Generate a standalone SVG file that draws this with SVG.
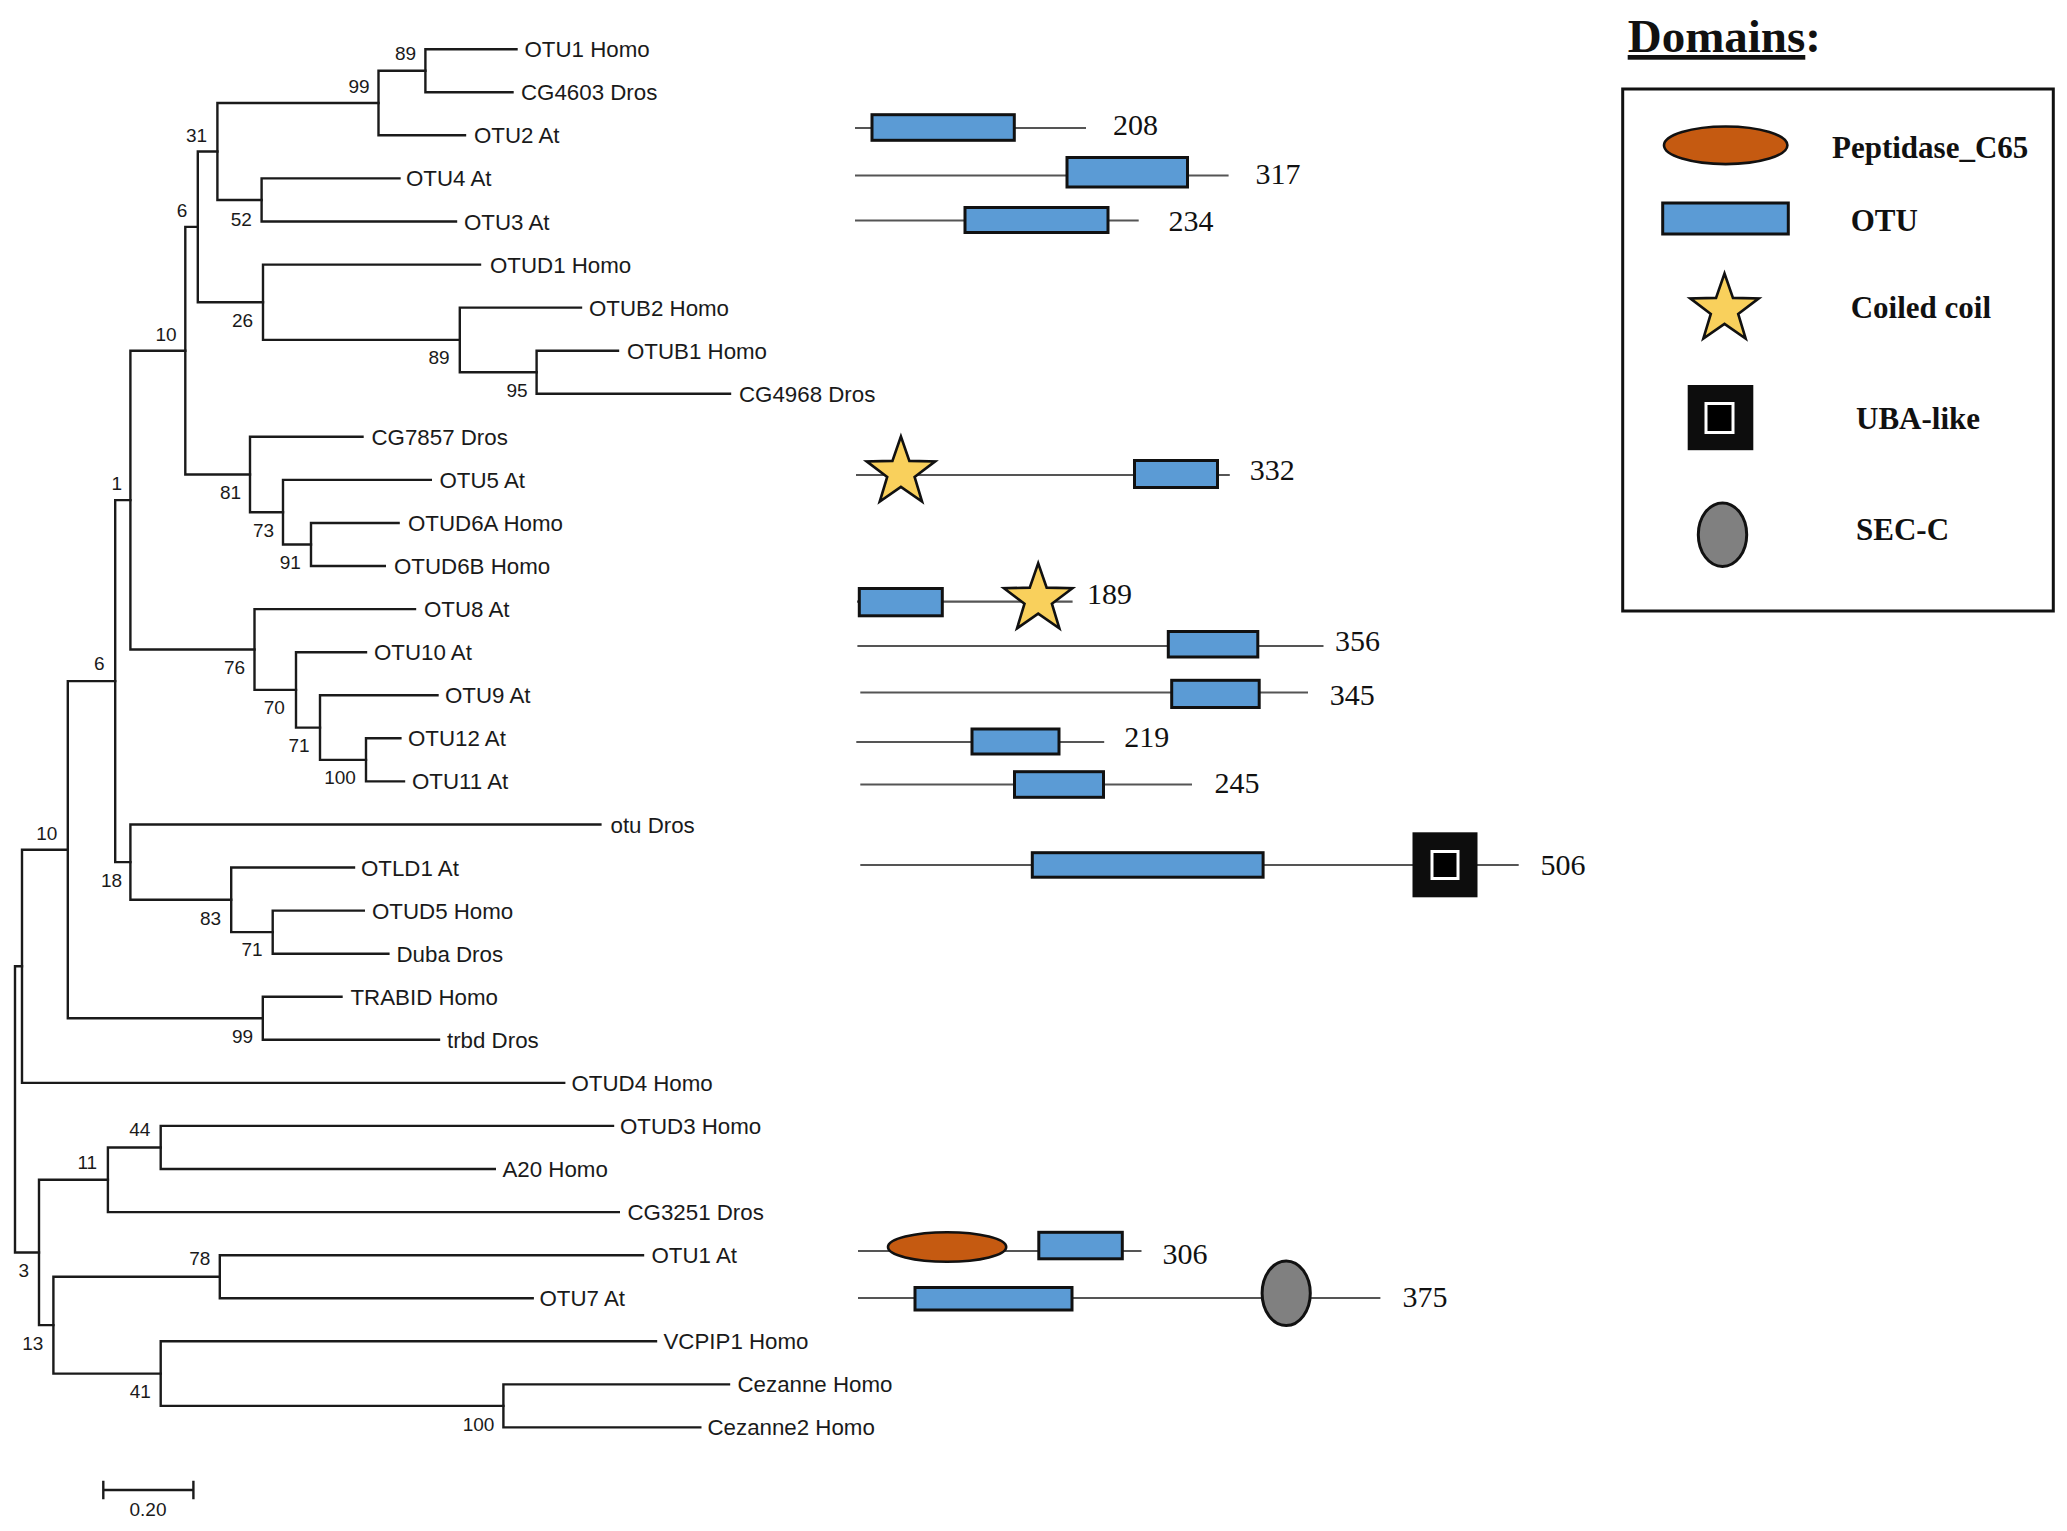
<svg xmlns="http://www.w3.org/2000/svg" width="2067" height="1531" viewBox="0 0 2067 1531">
<defs>
<style>
.br{fill:none;stroke:#1a1a1a;stroke-width:2.4;stroke-linecap:square}
.leaf{font-family:"Liberation Sans",Arial,sans-serif;font-size:22.3px;fill:#1a1a1a}
.bs{font-family:"Liberation Sans",Arial,sans-serif;font-size:19px;fill:#1a1a1a;text-anchor:middle}
.dl{stroke:#555;stroke-width:2.2;fill:none}
.otu{fill:#5B9BD5;stroke:#111;stroke-width:3}
.pep{fill:#C55A11;stroke:#111;stroke-width:2.6}
.sec{fill:#808080;stroke:#111;stroke-width:3}
.star{fill:#F9D05C;stroke:#111;stroke-width:2.6;stroke-linejoin:miter}
.uba{fill:#0d0d0d}
.ubai{fill:#000;stroke:#fff;stroke-width:3}
.num{font-family:"Liberation Serif","Times New Roman",serif;font-size:30px;fill:#111}
.leg{font-family:"Liberation Serif","Times New Roman",serif;font-weight:bold;font-size:31px;fill:#111}
</style>
<polygon id="starShape" points="0,-36 8.46,-11.65 34.24,-11.12 13.7,4.45 21.16,29.12 0,14.4 -21.16,29.12 -13.7,4.45 -34.24,-11.12 -8.46,-11.65"/>
</defs>
<rect width="2067" height="1531" fill="#fff"/>

<g id="connectors" class="br">
<path d="M425.4,49.2V92.3M425.4,49.2H516.5M425.4,92.3H512.5"/>
<path d="M378.5,70.75V135.3M378.5,70.75H425.4M378.5,135.3H465"/>
<path d="M261.6,178.4V221.5M261.6,178.4H399.5M261.6,221.5H456"/>
<path d="M217.4,103V199.95M217.4,103H378.5M217.4,199.95H261.6"/>
<path d="M536.6,350.7V393.8M536.6,350.7H618M536.6,393.8H730"/>
<path d="M459.8,307.6V372.25M459.8,307.6H581M459.8,372.25H536.6"/>
<path d="M263,264.6V339.9M263,264.6H480M263,339.9H459.8"/>
<path d="M197.8,151.5V302.25M197.8,151.5H217.4M197.8,302.25H263"/>
<path d="M311,523V566M311,523H398.6M311,566H384.8"/>
<path d="M283,479.9V544.5M283,479.9H430.8M283,544.5H311"/>
<path d="M250,436.8V512.2M250,436.8H362.5M250,512.2H283"/>
<path d="M185.3,226.9V474.5M185.3,226.9H197.8M185.3,474.5H250"/>
<path d="M366,738.3V781.4M366,738.3H400.4M366,781.4H404"/>
<path d="M320,695.3V759.85M320,695.3H437.5M320,759.85H366"/>
<path d="M296,652.2V727.6M296,652.2H366M296,727.6H320"/>
<path d="M254.5,609.1V689.9M254.5,609.1H415M254.5,689.9H296"/>
<path d="M130.4,350.7V649.5M130.4,350.7H185.3M130.4,649.5H254.5"/>
<path d="M272.7,910.6V953.7M272.7,910.6H363.8M272.7,953.7H388.4"/>
<path d="M231.2,867.5V932.15M231.2,867.5H354M231.2,932.15H272.7"/>
<path d="M130.4,824.5V899.8M130.4,824.5H600.4M130.4,899.8H231.2"/>
<path d="M115.2,500.1V862.15M115.2,500.1H130.4M115.2,862.15H130.4"/>
<path d="M262.8,996.7V1039.8M262.8,996.7H341.5M262.8,1039.8H439"/>
<path d="M67.8,681.1V1018.25M67.8,681.1H115.2M67.8,1018.25H262.8"/>
<path d="M22,849.7V1082.9M22,849.7H67.8M22,1082.9H564.2"/>
<path d="M160.7,1125.9V1169M160.7,1125.9H613M160.7,1169H494.8"/>
<path d="M107.9,1147.45V1212.1M107.9,1147.45H160.7M107.9,1212.1H618.8"/>
<path d="M219.8,1255.2V1298.2M219.8,1255.2H643M219.8,1298.2H532.7"/>
<path d="M503.4,1384.4V1427.4M503.4,1384.4H729M503.4,1427.4H700.3"/>
<path d="M160.7,1341.3V1405.9M160.7,1341.3H656M160.7,1405.9H503.4"/>
<path d="M53.4,1276.7V1373.6M53.4,1276.7H219.8M53.4,1373.6H160.7"/>
<path d="M39,1179.8V1325.15M39,1179.8H107.9M39,1325.15H53.4"/>
<path d="M15,966.3V1252.5M15,966.3H22M15,1252.5H39"/>
</g>

<g id="leaves" class="leaf">
<g id="leaf-OTU1-Homo"><text x="524.5" y="57.2">OTU1 Homo</text></g>
<g id="leaf-CG4603-Dros"><text x="521" y="100.3">CG4603 Dros</text></g>
<g id="leaf-OTU2-At"><text x="474" y="143.3">OTU2 At</text></g>
<g id="leaf-OTU4-At"><text x="406" y="186.4">OTU4 At</text></g>
<g id="leaf-OTU3-At"><text x="464" y="229.5">OTU3 At</text></g>
<g id="leaf-OTUD1-Homo"><text x="490" y="272.6">OTUD1 Homo</text></g>
<g id="leaf-OTUB2-Homo"><text x="589" y="315.6">OTUB2 Homo</text></g>
<g id="leaf-OTUB1-Homo"><text x="627" y="358.7">OTUB1 Homo</text></g>
<g id="leaf-CG4968-Dros"><text x="739" y="401.8">CG4968 Dros</text></g>
<g id="leaf-CG7857-Dros"><text x="371.5" y="444.8">CG7857 Dros</text></g>
<g id="leaf-OTU5-At"><text x="439.5" y="487.9">OTU5 At</text></g>
<g id="leaf-OTUD6A-Homo"><text x="408" y="531">OTUD6A Homo</text></g>
<g id="leaf-OTUD6B-Homo"><text x="394" y="574">OTUD6B Homo</text></g>
<g id="leaf-OTU8-At"><text x="424" y="617.1">OTU8 At</text></g>
<g id="leaf-OTU10-At"><text x="374" y="660.2">OTU10 At</text></g>
<g id="leaf-OTU9-At"><text x="445" y="703.3">OTU9 At</text></g>
<g id="leaf-OTU12-At"><text x="408" y="746.3">OTU12 At</text></g>
<g id="leaf-OTU11-At"><text x="412" y="789.4">OTU11 At</text></g>
<g id="leaf-otu-Dros"><text x="610.5" y="832.5">otu Dros</text></g>
<g id="leaf-OTLD1-At"><text x="361" y="875.5">OTLD1 At</text></g>
<g id="leaf-OTUD5-Homo"><text x="372" y="918.6">OTUD5 Homo</text></g>
<g id="leaf-Duba-Dros"><text x="396.5" y="961.7">Duba Dros</text></g>
<g id="leaf-TRABID-Homo"><text x="350.5" y="1004.7">TRABID Homo</text></g>
<g id="leaf-trbd-Dros"><text x="447" y="1047.8">trbd Dros</text></g>
<g id="leaf-OTUD4-Homo"><text x="571.5" y="1090.9">OTUD4 Homo</text></g>
<g id="leaf-OTUD3-Homo"><text x="620" y="1133.9">OTUD3 Homo</text></g>
<g id="leaf-A20-Homo"><text x="502.5" y="1177">A20 Homo</text></g>
<g id="leaf-CG3251-Dros"><text x="627.5" y="1220.1">CG3251 Dros</text></g>
<g id="leaf-OTU1-At"><text x="651.5" y="1263.2">OTU1 At</text></g>
<g id="leaf-OTU7-At"><text x="539.5" y="1306.2">OTU7 At</text></g>
<g id="leaf-VCPIP1-Homo"><text x="663.5" y="1349.3">VCPIP1 Homo</text></g>
<g id="leaf-Cezanne-Homo"><text x="737.5" y="1392.4">Cezanne Homo</text></g>
<g id="leaf-Cezanne2-Homo"><text x="707.5" y="1435.4">Cezanne2 Homo</text></g>
</g>

<g id="bootstrap" class="bs">
<text x="405.5" y="59.7">89</text>
<text x="359" y="92.7">99</text>
<text x="196.5" y="141.5">31</text>
<text x="182" y="216.6">6</text>
<text x="241.3" y="225.8">52</text>
<text x="242.5" y="327">26</text>
<text x="439" y="364">89</text>
<text x="517" y="397">95</text>
<text x="166" y="340.5">10</text>
<text x="116.8" y="489.5">1</text>
<text x="230.5" y="498.7">81</text>
<text x="263.5" y="537">73</text>
<text x="290.3" y="568.5">91</text>
<text x="99.2" y="670">6</text>
<text x="234.5" y="674.3">76</text>
<text x="274.2" y="713.8">70</text>
<text x="299" y="752">71</text>
<text x="340" y="783.6">100</text>
<text x="46.7" y="839.5">10</text>
<text x="111.5" y="886.5">18</text>
<text x="210.5" y="925">83</text>
<text x="252" y="955.5">71</text>
<text x="242.5" y="1043.3">99</text>
<text x="139.7" y="1135.7">44</text>
<text x="87.3" y="1168.8">11</text>
<text x="23.8" y="1277">3</text>
<text x="199.7" y="1264.8">78</text>
<text x="32.7" y="1349.5">13</text>
<text x="140.3" y="1398">41</text>
<text x="478.5" y="1430.8">100</text>
</g>

<g id="scale-bar">
<path class="br" d="M103.3,1490H193.4M103.3,1482V1498M193.4,1482V1498"/>
<text class="bs" x="148" y="1516">0.20</text>
</g>

<g id="arch-OTU2-At">
<line class="dl" x1="855" y1="128" x2="1086" y2="128"/>
<rect class="otu" x="872" y="114.7" width="142.3" height="25.6"/>
<text class="num" x="1113" y="135">208</text>
</g>
<g id="arch-OTU4-At">
<line class="dl" x1="855" y1="175.5" x2="1228.6" y2="175.5"/>
<rect class="otu" x="1067" y="157.5" width="120.5" height="29.5"/>
<text class="num" x="1255.4" y="184">317</text>
</g>
<g id="arch-OTU3-At">
<line class="dl" x1="855" y1="220.5" x2="1138.7" y2="220.5"/>
<rect class="otu" x="965" y="207.5" width="143" height="25"/>
<text class="num" x="1168.5" y="230.7">234</text>
</g>
<g id="arch-OTU5-At">
<line class="dl" x1="856" y1="475" x2="1229.8" y2="475"/>
<use href="#starShape" class="star" transform="translate(900.9,472.5)"/>
<rect class="otu" x="1134.5" y="460.5" width="83" height="27"/>
<text class="num" x="1249.7" y="480">332</text>
</g>
<g id="arch-OTU8-At">
<line class="dl" x1="857" y1="601.7" x2="1072.6" y2="601.7"/>
<rect class="otu" x="859.3" y="588.5" width="83" height="27.3"/>
<use href="#starShape" class="star" transform="translate(1038.2,599.3)"/>
<text class="num" x="1087" y="604">189</text>
</g>
<g id="arch-OTU10-At">
<line class="dl" x1="857.4" y1="646" x2="1323.5" y2="646"/>
<rect class="otu" x="1168.3" y="631.5" width="89.5" height="25.5"/>
<text class="num" x="1335" y="651">356</text>
</g>
<g id="arch-OTU9-At">
<line class="dl" x1="860.3" y1="692.5" x2="1308" y2="692.5"/>
<rect class="otu" x="1171.7" y="680.3" width="87.5" height="27.2"/>
<text class="num" x="1329.8" y="705">345</text>
</g>
<g id="arch-OTU12-At">
<line class="dl" x1="856.3" y1="742" x2="1104.2" y2="742"/>
<rect class="otu" x="972" y="729" width="87" height="25"/>
<text class="num" x="1124.3" y="746.7">219</text>
</g>
<g id="arch-OTU11-At">
<line class="dl" x1="860.3" y1="784.5" x2="1192" y2="784.5"/>
<rect class="otu" x="1014.5" y="771.7" width="89" height="25.6"/>
<text class="num" x="1214.4" y="793.3">245</text>
</g>
<g id="arch-OTLD1-At">
<line class="dl" x1="860.3" y1="865" x2="1518.7" y2="865"/>
<rect class="otu" x="1032.3" y="852.7" width="230.8" height="24.5"/>
<rect class="uba" x="1412.5" y="832.3" width="65" height="65"/>
<rect class="ubai" x="1432" y="851.5" width="26" height="27"/>
<text class="num" x="1540.5" y="874.5">506</text>
</g>
<g id="arch-OTU1-At">
<line class="dl" x1="858" y1="1251" x2="1141.5" y2="1251"/>
<ellipse class="pep" cx="947.1" cy="1247" rx="59.1" ry="14.7"/>
<rect class="otu" x="1038.8" y="1232.3" width="83.5" height="26.5"/>
<text class="num" x="1162.5" y="1264">306</text>
</g>
<g id="arch-OTU7-At">
<line class="dl" x1="858" y1="1298" x2="1380.4" y2="1298"/>
<rect class="otu" x="915" y="1287.5" width="157" height="22.5"/>
<ellipse class="sec" cx="1286.2" cy="1293.3" rx="24.1" ry="32.3"/>
<text class="num" x="1402.6" y="1307">375</text>
</g>

<g id="legend">
<text x="1627.7" y="52" font-family="Liberation Serif, Times New Roman, serif" font-weight="bold" font-size="47" fill="#111"><tspan text-decoration="underline">Domains</tspan>:</text>
<rect x="1622.7" y="89" width="430.6" height="522" fill="none" stroke="#111" stroke-width="3"/>
<g id="legend-peptidase">
<ellipse class="pep" cx="1725.7" cy="145.3" rx="61.7" ry="18.8"/>
<text class="leg" x="1832" y="157.5">Peptidase_C65</text>
</g>
<g id="legend-otu">
<rect class="otu" x="1662.7" y="203" width="125.6" height="31"/>
<text class="leg" x="1850.7" y="231">OTU</text>
</g>
<g id="legend-coiled">
<use href="#starShape" class="star" transform="translate(1724.5,309.5)"/>
<text class="leg" x="1850.7" y="317.5">Coiled coil</text>
</g>
<g id="legend-uba">
<rect class="uba" x="1687.7" y="385" width="65.6" height="65.2"/>
<rect class="ubai" x="1706" y="403.5" width="27" height="29"/>
<text class="leg" x="1856" y="429">UBA-like</text>
</g>
<g id="legend-secc">
<ellipse class="sec" cx="1722.5" cy="534.7" rx="24.2" ry="31.8"/>
<text class="leg" x="1856" y="539.5">SEC-C</text>
</g>
</g>
</svg>
